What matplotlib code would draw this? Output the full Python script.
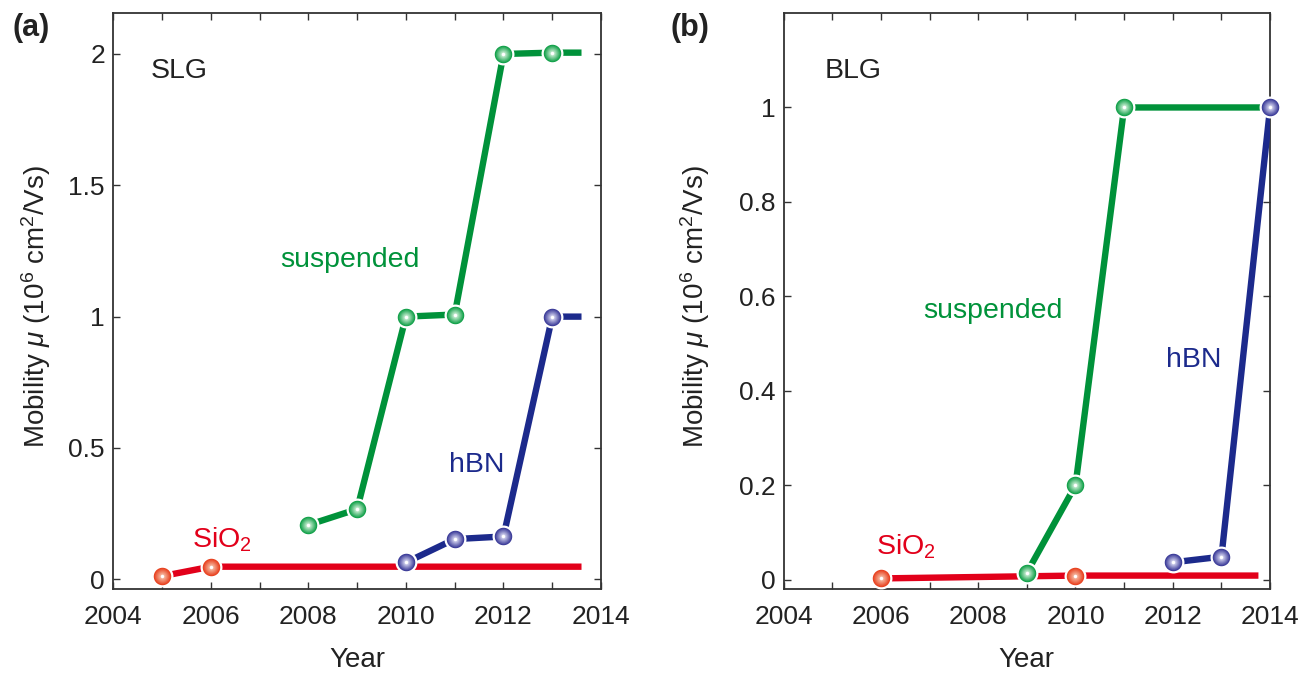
import numpy as np
import matplotlib
matplotlib.use("Agg")
import matplotlib.pyplot as plt
from matplotlib.colors import to_rgb

plt.rcParams['font.family'] = ['Liberation Sans', 'DejaVu Sans']
plt.rcParams['mathtext.fontset'] = 'custom'
plt.rcParams['mathtext.rm'] = 'Liberation Sans'
plt.rcParams['mathtext.it'] = 'Liberation Sans:italic'

# ---- data (a) SLG ----
slg_sio2_years = [2005, 2006]
slg_sio2_mu = [0.012, 0.048]
slg_susp_years = [2008, 2009, 2010, 2011, 2012, 2013]
slg_susp_mu = [0.207, 0.267, 1.0, 1.008, 2.0, 2.005]
slg_hbn_years = [2010, 2011, 2012, 2013]
slg_hbn_mu = [0.064, 0.153, 0.163, 1.0]
slg_line_end = 2013.6

# ---- data (b) BLG ----
blg_sio2_years = [2006, 2010]
blg_sio2_mu = [0.003, 0.009]
blg_sio2_end = 2013.76
blg_susp_years = [2009, 2010, 2011]
blg_susp_mu = [0.015, 0.2, 1.0]
blg_susp_end = 2014
blg_hbn_years = [2012, 2013, 2014]
blg_hbn_mu = [0.037, 0.049, 1.0]

year_ticks = [2004, 2006, 2008, 2010, 2012, 2014]

RED, GREEN, BLUE = '#e2001a', '#00923a', '#1c2a8c'
MARK = {RED: ('#e8401e', '#f6c0a8'), GREEN: ('#10a048', '#d0f0d8'), BLUE: ('#3a3a98', '#d8d8f2')}
LW = 4.6


def glossy(ax, x, y, color):
    base, light = MARK[color]
    ax.plot(x, y, ls='none', marker='o', ms=14.2, mfc=base, mec='white', mew=1.6,
            zorder=5, clip_on=False)
    b, l = np.array(to_rgb(base)), np.array(to_rgb(light))
    n = 8
    for i in range(1, n + 1):
        t = i / n
        c = b * (1 - t) + l * t
        if i == n:
            c = np.array([1, 1, 1])
        ax.plot(x, y, ls='none', marker='o', ms=12.6 * (1 - t) + 2.5 * t, mfc=c, mec='none',
                zorder=5 + i * 0.01, clip_on=False)


def series(ax, years, mu, color, end=None):
    lx, ly = list(years), list(mu)
    if end is not None and end > lx[-1]:
        lx.append(end)
        ly.append(mu[-1])
    ax.plot(lx, ly, color=color, lw=LW, solid_capstyle='butt', zorder=3)


def style(ax, yticks, ylim, ylabels):
    ax.set_xlim(2004, 2014)
    ax.set_ylim(*ylim)
    ax.set_xticks(year_ticks)
    ax.set_xticks(range(2005, 2014, 2), minor=True)
    ax.set_yticks(yticks)
    ax.set_yticklabels(ylabels)
    ax.tick_params(which='both', direction='in', top=True, right=True, length=5,
                   width=1.0, color='#333333', labelsize=19, labelcolor='#222222')
    ax.tick_params(axis='x', which='both', pad=11)
    ax.tick_params(axis='y', pad=6)
    for s in ax.spines.values():
        s.set_linewidth(1.3)
        s.set_color('#333333')
    ax.set_xlabel('Year', fontsize=20, color='#222222', labelpad=13.5)
    ax.set_ylabel(r'Mobility $\mu$ (10$^6$ cm$^2$/Vs)', fontsize=20, color='#222222')


fig = plt.figure(figsize=(13.14, 6.73), dpi=100)
ax1 = fig.add_axes([0.0862, 0.1244, 0.3712, 0.8563])
ax2 = fig.add_axes([0.5963, 0.1244, 0.3703, 0.8563])

# (a)
series(ax1, slg_sio2_years, slg_sio2_mu, RED, slg_line_end)
series(ax1, slg_susp_years, slg_susp_mu, GREEN, slg_line_end)
series(ax1, slg_hbn_years, slg_hbn_mu, BLUE, slg_line_end)
glossy(ax1, slg_sio2_years, slg_sio2_mu, RED)
glossy(ax1, slg_susp_years, slg_susp_mu, GREEN)
glossy(ax1, slg_hbn_years, slg_hbn_mu, BLUE)
style(ax1, [0, 0.5, 1, 1.5, 2], (-0.038, 2.156), ['0', '0.5', '1', '1.5', '2'])
ax1.yaxis.set_label_coords(-0.124, 0.49)
ax1.text(0.0767, 0.888, 'SLG', transform=ax1.transAxes, fontsize=20.5, color='#222222')
ax1.text(2008.86, 1.19, 'suspended', fontsize=20.5, color=GREEN, ha='center')
ax1.text(2011.46, 0.41, 'hBN', fontsize=20.5, color=BLUE, ha='center')
ax1.text(2005.61, 0.122, 'SiO$_2$', fontsize=20.5, color=RED)

# (b)
series(ax2, blg_sio2_years, blg_sio2_mu, RED, blg_sio2_end)
series(ax2, blg_susp_years, blg_susp_mu, GREEN, blg_susp_end)
series(ax2, blg_hbn_years, blg_hbn_mu, BLUE)
glossy(ax2, blg_sio2_years, blg_sio2_mu, RED)
glossy(ax2, blg_susp_years, blg_susp_mu, GREEN)
glossy(ax2, blg_hbn_years, blg_hbn_mu, BLUE)
style(ax2, [0, 0.2, 0.4, 0.6, 0.8, 1], (-0.02, 1.2), ['0', '0.2', '0.4', '0.6', '0.8', '1'])
ax2.yaxis.set_label_coords(-0.148, 0.49)
ax2.text(0.0837, 0.888, 'BLG', transform=ax2.transAxes, fontsize=20.5, color='#222222')
ax2.text(2008.31, 0.554, 'suspended', fontsize=20.5, color=GREEN, ha='center')
ax2.text(2012.43, 0.451, 'hBN', fontsize=20.5, color=BLUE, ha='center')
ax2.text(2005.9, 0.053, 'SiO$_2$', fontsize=20.5, color=RED)

fig.text(0.0097, 0.9465, '(a)', fontsize=22, fontweight='bold', color='#222222')
fig.text(0.51, 0.9465, '(b)', fontsize=22, fontweight='bold', color='#222222')

fig.savefig('out.png', dpi=100)
